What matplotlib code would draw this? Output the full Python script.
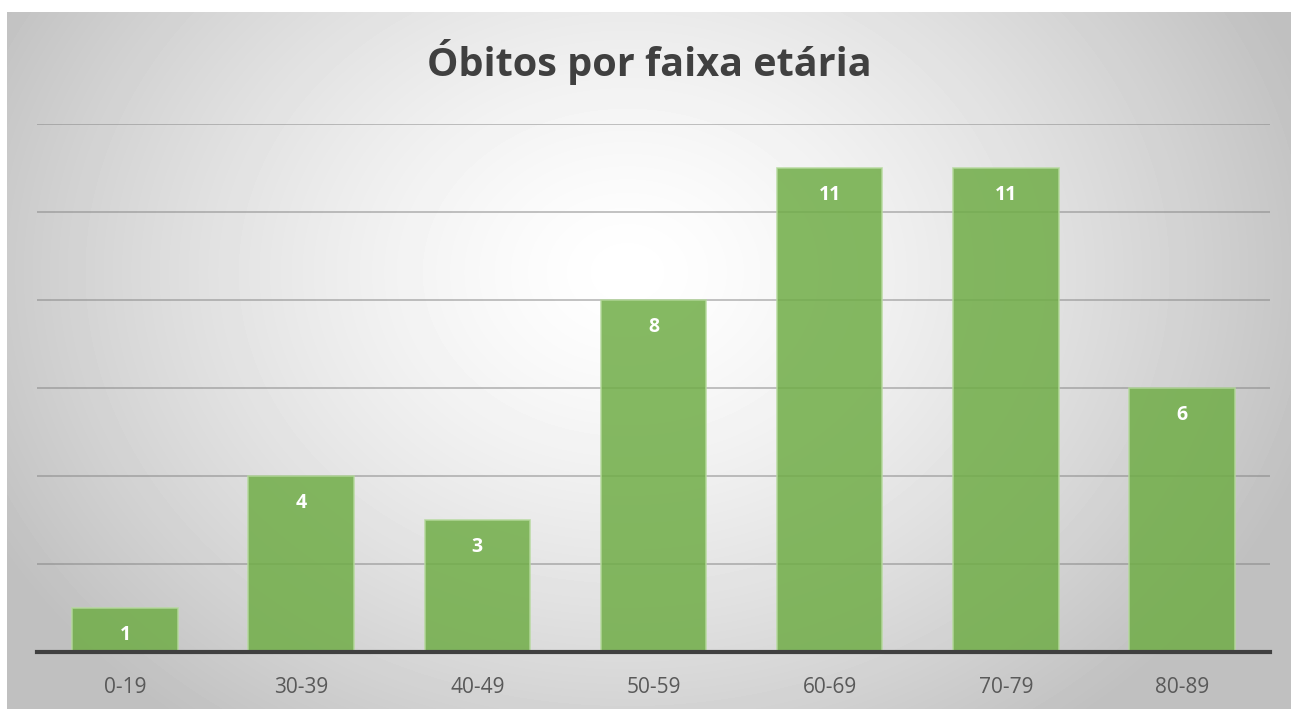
import numpy as np
import matplotlib.pyplot as plt

faixas = ['0-19', '30-39', '40-49', '50-59', '60-69', '70-79', '80-89']
obitos = [1, 4, 3, 8, 11, 11, 6]
titulo = 'Óbitos por faixa etária'

plt.rcParams['font.family'] = ['Open Sans', 'DejaVu Sans']

W, H = 1291, 709
fig = plt.figure(figsize=(W / 100, H / 100), dpi=100)

# fundo com gradiente radial (area do grafico: x 7..1291, y 12..709)
bg = fig.add_axes([7 / W, 0, (W - 7) / W, (H - 12) / H])
bg.set_axis_off()
yy, xx = np.mgrid[0:697, 0:1284]
cx, cy = 620, 260
r = np.sqrt((xx - cx) ** 2 + ((yy - cy) * 1.25) ** 2)
r = np.clip(r / 720, 0, 1)
val = 1 - 0.25 * r ** 1.4
bg.imshow(val, cmap='gray', vmin=0, vmax=1, aspect='auto',
          extent=[0, 1, 0, 1], origin='upper', interpolation='bilinear')
bg.set_xlim(0, 1)
bg.set_ylim(0, 1)

# area de plotagem
x0, x1 = 37, 1270
ytop, ybase = 124, 652
ax = fig.add_axes([x0 / W, (H - ybase) / H, (x1 - x0) / W, (ybase - ytop) / H])
ax.patch.set_alpha(0)

x = np.arange(len(faixas))
ax.set_xlim(-0.5, len(faixas) - 0.5)
ax.set_ylim(0, 12)
ax.set_yticks(np.arange(0, 13, 2))
ax.yaxis.grid(True, color='#7f7f7f', alpha=0.55, linewidth=1.2)
ax.set_axisbelow(True)

bars = ax.bar(x, obitos, width=0.6, color='#70ad47', alpha=0.85,
              edgecolor='#b5d99c', linewidth=1.2, zorder=2)

for xi, v in zip(x, obitos):
    ax.annotate(str(v), (xi, v), xytext=(0, -27), textcoords='offset pixels',
                ha='center', va='center', color='white', fontsize=14,
                fontweight='bold', zorder=3)

for s in ['top', 'right', 'left']:
    ax.spines[s].set_visible(False)
ax.spines['bottom'].set_color('#404040')
ax.spines['bottom'].set_linewidth(3)
ax.spines['bottom'].set_zorder(4)

ax.set_xticks(x)
ax.set_xticklabels(faixas, fontsize=15, color='#595959')
ax.tick_params(axis='x', length=0, pad=18)
ax.tick_params(axis='y', length=0, labelleft=False)

fig.text((7 + W) / 2 / W, 1 - 62 / H, titulo, ha='center', va='center',
         fontsize=28.5, fontweight='bold', color='#404040')

fig.savefig('out.png', dpi=100)
